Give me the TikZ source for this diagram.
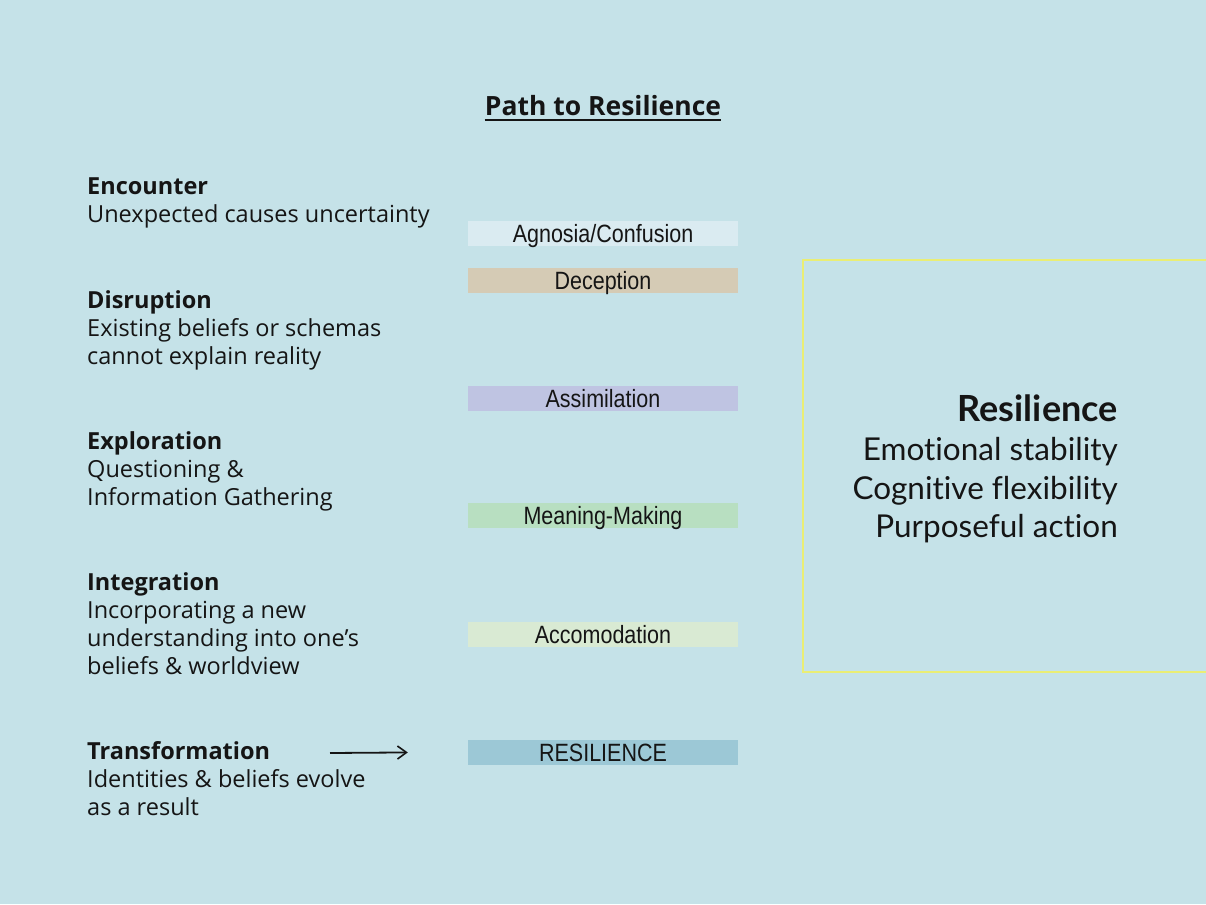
\documentclass[tikz,border=0pt]{standalone}
\usepackage{fontspec}
\setmainfont{Open Sans}
\newfontfamily\barfont[FakeStretch=0.86]{Liberation Sans}
\newfontfamily\boxfont[Ligatures=NoCommon]{Lato}
\usetikzlibrary{positioning, arrows.meta}

\definecolor{bgblue}{HTML}{C5E2E8}
\definecolor{agnosiacol}{HTML}{DAEBF1}
\definecolor{deceptcol}{HTML}{D5CBB5}
\definecolor{assimcol}{HTML}{BFC4E2}
\definecolor{meaningcol}{HTML}{B8DFC1}
\definecolor{accomcol}{HTML}{D9EAD3}
\definecolor{resilcol}{HTML}{9CC8D6}
\definecolor{boxyellow}{HTML}{EAEE74}
\definecolor{inkcol}{HTML}{151515}

\tikzset{
  stage/.style={anchor=north west, inner sep=0pt, align=left, text=inkcol,
    font=\fontsize{23.5}{28}\selectfont},
  bar/.style={minimum width=270pt, minimum height=25pt, inner sep=0pt, text=inkcol,
    text height=18pt, text depth=0pt, font=\barfont\fontsize{25}{25}\selectfont},
  arrowline/.style={-{Straight Barb[length=9pt,width=13pt,line width=1.6pt]}, line width=1.8pt, inkcol}
}

\begin{document}
\begin{tikzpicture}[x=1pt, y=-1pt]
\fill[bgblue] (0,0) rectangle (1206,904);
\useasboundingbox (0,0) rectangle (1206,904);

\node[inner sep=0pt, text=inkcol, font=\bfseries\fontsize{26.5}{30}\selectfont] (title) at (603,106) {Path to Resilience};
\draw[inkcol, line width=2pt] ([yshift=-4pt]title.base west) -- ([yshift=-4pt]title.base east);

\node[stage] (encounter) at (87,174.5) {\textbf{\strut Encounter}\\Unexpected causes uncertainty};
\node[stage] (disruption) at (87,288.5) {\textbf{\strut Disruption}\\Existing beliefs or schemas\\cannot explain reality};
\node[stage] (exploration) at (87,429.5) {\textbf{\strut Exploration}\\Questioning \&\\Information Gathering};
\node[stage] (integration) at (87,570.5) {\textbf{\strut Integration}\\Incorporating a new\\understanding into one’s\\beliefs \& worldview};
\node[stage] (transformation) at (87,739.5) {\textbf{\strut Transformation}\\Identities \& beliefs evolve\\as a result};

\node[bar, fill=agnosiacol] (agnosia) at (603,233) {Agnosia/Confusion};
\node[bar, fill=deceptcol] (deception) at (603,280) {Deception};
\node[bar, fill=assimcol] (assimilation) at (603,398) {Assimilation};
\node[bar, fill=meaningcol] (meaning) at (603,515) {Meaning-Making};
\node[bar, fill=accomcol] (accomodation) at (603,634) {Accomodation};
\node[bar, fill=resilcol] (resilience) at (603,752) {RESILIENCE};

\coordinate (arrowstart) at (330,753);
\draw[arrowline, shorten >=60pt] (arrowstart) -- (resilience.west);

\draw[boxyellow, line width=1.2pt] (1212,260) -- (803,260) -- (803,672) -- (1212,672);
\node[anchor=east, align=right, inner sep=0pt, text=inkcol, font=\boxfont\fontsize{31.5}{38.7}\selectfont] (summary) at (1118,469)
  {{\fontsize{36}{38.7}\selectfont\bfseries Resilience}\\Emotional stability\\Cognitive flexibility\\Purposeful action};
\end{tikzpicture}
\end{document}
